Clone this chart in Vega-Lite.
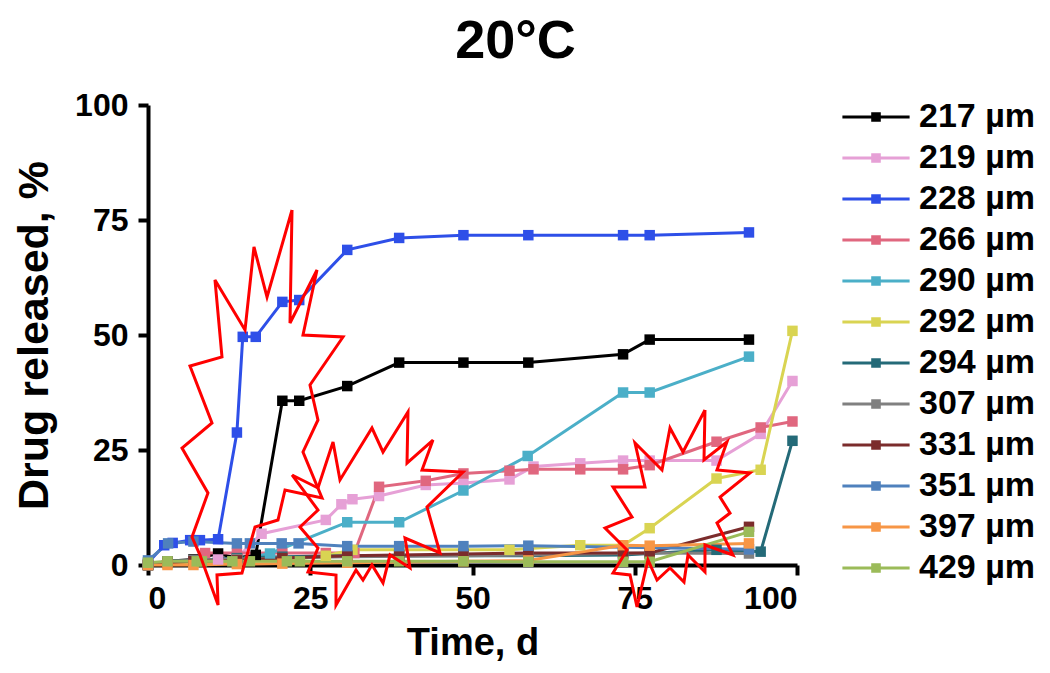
{
  "$schema": "https://vega.github.io/schema/vega-lite/v6.json",
  "width": 649,
  "height": 460,
  "autosize": {"type": "none"},
  "padding": {"left": 148, "top": 105, "right": 253, "bottom": 108},
  "background": "white",
  "title": {"text": "20°C", "fontSize": 54, "fontWeight": "bold", "anchor": "middle", "dx": 43, "offset": 20, "color": "black"},
  "config": {
    "font": "Liberation Sans",
    "view": {"stroke": null},
    "axis": {"grid": false, "domainColor": "black", "tickColor": "black", "domainWidth": 4, "tickWidth": 4, "tickSize": 10, "labelFontSize": 32, "labelFontWeight": "bold", "labelColor": "black", "titleColor": "black", "titleFontWeight": "bold", "labelPadding": 8},
    "legend": {"labelFontSize": 34, "labelFontWeight": "bold", "labelColor": "black"}
  },
  "datasets": {
    "drug": [
      {"series": "217 µm", "t": 0, "pct": 0}, {"series": "217 µm", "t": 3, "pct": 0.8}, {"series": "217 µm", "t": 7, "pct": 1.2}, {"series": "217 µm", "t": 10.8, "pct": 2.5}, {"series": "217 µm", "t": 13.7, "pct": 1.5}, {"series": "217 µm", "t": 16.6, "pct": 2.2}, {"series": "217 µm", "t": 20.7, "pct": 35.7}, {"series": "217 µm", "t": 23.3, "pct": 35.7}, {"series": "217 µm", "t": 30.7, "pct": 38.9}, {"series": "217 µm", "t": 38.7, "pct": 44}, {"series": "217 µm", "t": 48.6, "pct": 44}, {"series": "217 µm", "t": 58.6, "pct": 44}, {"series": "217 µm", "t": 73.2, "pct": 45.8}, {"series": "217 µm", "t": 77.3, "pct": 49}, {"series": "217 µm", "t": 92.6, "pct": 49},
      {"series": "219 µm", "t": 0, "pct": 0}, {"series": "219 µm", "t": 3, "pct": 0.5}, {"series": "219 µm", "t": 7, "pct": 0.8}, {"series": "219 µm", "t": 10.8, "pct": 1.2}, {"series": "219 µm", "t": 13.7, "pct": 1.5}, {"series": "219 µm", "t": 17.5, "pct": 6.8}, {"series": "219 µm", "t": 27.4, "pct": 9.8}, {"series": "219 µm", "t": 29.8, "pct": 13.2}, {"series": "219 µm", "t": 31.5, "pct": 14.3}, {"series": "219 µm", "t": 35.6, "pct": 15}, {"series": "219 µm", "t": 42.8, "pct": 17.4}, {"series": "219 µm", "t": 48.6, "pct": 17.8}, {"series": "219 µm", "t": 55.7, "pct": 18.6}, {"series": "219 µm", "t": 59.4, "pct": 21.4}, {"series": "219 µm", "t": 66.6, "pct": 22.1}, {"series": "219 µm", "t": 73.2, "pct": 22.7}, {"series": "219 µm", "t": 77.3, "pct": 22.7}, {"series": "219 µm", "t": 87.6, "pct": 22.7}, {"series": "219 µm", "t": 94.4, "pct": 28.5}, {"series": "219 µm", "t": 99.3, "pct": 40},
      {"series": "228 µm", "t": 0, "pct": 0.5}, {"series": "228 µm", "t": 2.5, "pct": 4.3}, {"series": "228 µm", "t": 3.8, "pct": 4.8}, {"series": "228 µm", "t": 6.5, "pct": 5.4}, {"series": "228 µm", "t": 8, "pct": 5.4}, {"series": "228 µm", "t": 10.8, "pct": 5.6}, {"series": "228 µm", "t": 13.7, "pct": 28.8}, {"series": "228 µm", "t": 14.6, "pct": 49.6}, {"series": "228 µm", "t": 16.6, "pct": 49.6}, {"series": "228 µm", "t": 20.7, "pct": 57.2}, {"series": "228 µm", "t": 23.3, "pct": 57.6}, {"series": "228 µm", "t": 30.7, "pct": 68.5}, {"series": "228 µm", "t": 38.7, "pct": 71.1}, {"series": "228 µm", "t": 48.6, "pct": 71.7}, {"series": "228 µm", "t": 58.6, "pct": 71.7}, {"series": "228 µm", "t": 73.2, "pct": 71.7}, {"series": "228 µm", "t": 77.3, "pct": 71.7}, {"series": "228 µm", "t": 92.6, "pct": 72.3},
      {"series": "266 µm", "t": 0, "pct": 0}, {"series": "266 µm", "t": 3, "pct": 0.5}, {"series": "266 µm", "t": 7, "pct": 1}, {"series": "266 µm", "t": 8.8, "pct": 2.6}, {"series": "266 µm", "t": 13.7, "pct": 2.6}, {"series": "266 µm", "t": 20.7, "pct": 2.6}, {"series": "266 µm", "t": 27.4, "pct": 2.6}, {"series": "266 µm", "t": 31.8, "pct": 2.6}, {"series": "266 µm", "t": 35.6, "pct": 17}, {"series": "266 µm", "t": 42.8, "pct": 18.3}, {"series": "266 µm", "t": 48.6, "pct": 19.9}, {"series": "266 µm", "t": 55.7, "pct": 20.5}, {"series": "266 µm", "t": 59.4, "pct": 20.8}, {"series": "266 µm", "t": 66.6, "pct": 20.8}, {"series": "266 µm", "t": 73.2, "pct": 20.8}, {"series": "266 µm", "t": 77.3, "pct": 21.7}, {"series": "266 µm", "t": 87.6, "pct": 26.8}, {"series": "266 µm", "t": 94.4, "pct": 29.9}, {"series": "266 µm", "t": 99.3, "pct": 31.2},
      {"series": "290 µm", "t": 0, "pct": 0}, {"series": "290 µm", "t": 3, "pct": 0.5}, {"series": "290 µm", "t": 7, "pct": 0.8}, {"series": "290 µm", "t": 13.7, "pct": 1}, {"series": "290 µm", "t": 18.8, "pct": 2.5}, {"series": "290 µm", "t": 30.7, "pct": 9.3}, {"series": "290 µm", "t": 38.7, "pct": 9.3}, {"series": "290 µm", "t": 48.6, "pct": 16.2}, {"series": "290 µm", "t": 58.5, "pct": 23.7}, {"series": "290 µm", "t": 73.2, "pct": 37.5}, {"series": "290 µm", "t": 77.3, "pct": 37.5}, {"series": "290 µm", "t": 92.6, "pct": 45.3},
      {"series": "292 µm", "t": 0, "pct": 0}, {"series": "292 µm", "t": 3, "pct": 0.3}, {"series": "292 µm", "t": 7, "pct": 0.5}, {"series": "292 µm", "t": 13.7, "pct": 0.8}, {"series": "292 µm", "t": 20.7, "pct": 1}, {"series": "292 µm", "t": 27.4, "pct": 2}, {"series": "292 µm", "t": 31.5, "pct": 3.3}, {"series": "292 µm", "t": 38.7, "pct": 3.3}, {"series": "292 µm", "t": 48.6, "pct": 3.3}, {"series": "292 µm", "t": 55.7, "pct": 3.3}, {"series": "292 µm", "t": 66.6, "pct": 4.3}, {"series": "292 µm", "t": 73.2, "pct": 4.3}, {"series": "292 µm", "t": 77.3, "pct": 8}, {"series": "292 µm", "t": 87.6, "pct": 18.8}, {"series": "292 µm", "t": 94.4, "pct": 20.7}, {"series": "292 µm", "t": 99.3, "pct": 50.9},
      {"series": "294 µm", "t": 0, "pct": 0}, {"series": "294 µm", "t": 3, "pct": 0.8}, {"series": "294 µm", "t": 7, "pct": 1}, {"series": "294 µm", "t": 13.7, "pct": 1.5}, {"series": "294 µm", "t": 20.7, "pct": 1.8}, {"series": "294 µm", "t": 30.7, "pct": 2}, {"series": "294 µm", "t": 38.7, "pct": 2}, {"series": "294 µm", "t": 48.6, "pct": 2}, {"series": "294 µm", "t": 58.6, "pct": 2}, {"series": "294 µm", "t": 73.2, "pct": 2.2}, {"series": "294 µm", "t": 77.3, "pct": 2.5}, {"series": "294 µm", "t": 87.6, "pct": 3.3}, {"series": "294 µm", "t": 94.4, "pct": 2.9}, {"series": "294 µm", "t": 99.3, "pct": 27},
      {"series": "307 µm", "t": 0, "pct": 0}, {"series": "307 µm", "t": 3, "pct": 0.8}, {"series": "307 µm", "t": 7, "pct": 1}, {"series": "307 µm", "t": 13.7, "pct": 1.3}, {"series": "307 µm", "t": 20.7, "pct": 1.5}, {"series": "307 µm", "t": 30.7, "pct": 1.8}, {"series": "307 µm", "t": 48.6, "pct": 2}, {"series": "307 µm", "t": 58.6, "pct": 2.2}, {"series": "307 µm", "t": 73.2, "pct": 2.5}, {"series": "307 µm", "t": 77.3, "pct": 2.6}, {"series": "307 µm", "t": 92.6, "pct": 2.5},
      {"series": "331 µm", "t": 0, "pct": 0}, {"series": "331 µm", "t": 3, "pct": 0.5}, {"series": "331 µm", "t": 7, "pct": 0.8}, {"series": "331 µm", "t": 13.7, "pct": 1}, {"series": "331 µm", "t": 20.7, "pct": 1.5}, {"series": "331 µm", "t": 30.7, "pct": 2}, {"series": "331 µm", "t": 38.7, "pct": 2.2}, {"series": "331 µm", "t": 48.6, "pct": 2.4}, {"series": "331 µm", "t": 58.6, "pct": 2.6}, {"series": "331 µm", "t": 73.2, "pct": 2.6}, {"series": "331 µm", "t": 77.3, "pct": 2.6}, {"series": "331 µm", "t": 92.6, "pct": 8.3},
      {"series": "351 µm", "t": 0, "pct": 1}, {"series": "351 µm", "t": 3.1, "pct": 4.7}, {"series": "351 µm", "t": 7, "pct": 5.1}, {"series": "351 µm", "t": 13.7, "pct": 4.7}, {"series": "351 µm", "t": 15.7, "pct": 4.7}, {"series": "351 µm", "t": 20.6, "pct": 4.7}, {"series": "351 µm", "t": 23.2, "pct": 4.7}, {"series": "351 µm", "t": 30.7, "pct": 4.1}, {"series": "351 µm", "t": 38.7, "pct": 4.1}, {"series": "351 µm", "t": 48.6, "pct": 4.1}, {"series": "351 µm", "t": 58.6, "pct": 4.2}, {"series": "351 µm", "t": 92.6, "pct": 3.4},
      {"series": "397 µm", "t": 0, "pct": 0}, {"series": "397 µm", "t": 3, "pct": 0}, {"series": "397 µm", "t": 7, "pct": 0}, {"series": "397 µm", "t": 13.7, "pct": 0.2}, {"series": "397 µm", "t": 20.7, "pct": 0.3}, {"series": "397 µm", "t": 30.7, "pct": 0.5}, {"series": "397 µm", "t": 48.6, "pct": 0.8}, {"series": "397 µm", "t": 58.6, "pct": 1}, {"series": "397 µm", "t": 73.2, "pct": 4.3}, {"series": "397 µm", "t": 77.3, "pct": 4.2}, {"series": "397 µm", "t": 92.6, "pct": 4.7},
      {"series": "429 µm", "t": 0, "pct": 0.5}, {"series": "429 µm", "t": 3, "pct": 0.8}, {"series": "429 µm", "t": 7.5, "pct": 0.8}, {"series": "429 µm", "t": 8.3, "pct": 0.8}, {"series": "429 µm", "t": 13, "pct": 0.8}, {"series": "429 µm", "t": 15.7, "pct": 0.8}, {"series": "429 µm", "t": 21.4, "pct": 0.8}, {"series": "429 µm", "t": 23.4, "pct": 0.8}, {"series": "429 µm", "t": 30.7, "pct": 0.8}, {"series": "429 µm", "t": 38.7, "pct": 0.8}, {"series": "429 µm", "t": 48.6, "pct": 0.8}, {"series": "429 µm", "t": 58.6, "pct": 0.7}, {"series": "429 µm", "t": 73.2, "pct": 0.7}, {"series": "429 µm", "t": 77.3, "pct": 0.7}, {"series": "429 µm", "t": 92.6, "pct": 7.2}
    ],
    "stars": [
      {"star": "A", "ord": 0, "t": 22.19, "pct": 77.17}, {"star": "A", "ord": 1, "t": 21.88, "pct": 52.61}, {"star": "A", "ord": 2, "t": 26.04, "pct": 64.13}, {"star": "A", "ord": 3, "t": 23.88, "pct": 50.0}, {"star": "A", "ord": 4, "t": 30.05, "pct": 49.57}, {"star": "A", "ord": 5, "t": 24.96, "pct": 39.13}, {"star": "A", "ord": 6, "t": 26.19, "pct": 31.52}, {"star": "A", "ord": 7, "t": 23.88, "pct": 24.57}, {"star": "A", "ord": 8, "t": 26.81, "pct": 14.57}, {"star": "A", "ord": 9, "t": 21.11, "pct": 16.3}, {"star": "A", "ord": 10, "t": 20.03, "pct": 9.78}, {"star": "A", "ord": 11, "t": 16.49, "pct": 8.26}, {"star": "A", "ord": 12, "t": 14.48, "pct": -1.74}, {"star": "A", "ord": 13, "t": 10.63, "pct": -2.17}, {"star": "A", "ord": 14, "t": 10.8, "pct": -8.7}, {"star": "A", "ord": 15, "t": 8.01, "pct": 2.17}, {"star": "A", "ord": 16, "t": 6.78, "pct": 6.09}, {"star": "A", "ord": 17, "t": 9.24, "pct": 15.65}, {"star": "A", "ord": 18, "t": 5.24, "pct": 25.43}, {"star": "A", "ord": 19, "t": 9.86, "pct": 30.87}, {"star": "A", "ord": 20, "t": 6.47, "pct": 43.26}, {"star": "A", "ord": 21, "t": 11.4, "pct": 45.22}, {"star": "A", "ord": 22, "t": 10.32, "pct": 61.96}, {"star": "A", "ord": 23, "t": 14.95, "pct": 51.09}, {"star": "A", "ord": 24, "t": 16.33, "pct": 69.13}, {"star": "A", "ord": 25, "t": 18.34, "pct": 58.26}, {"star": "A", "ord": 26, "t": 22.19, "pct": 77.17},
      {"star": "B", "ord": 0, "t": 22.19, "pct": 19.57}, {"star": "B", "ord": 1, "t": 26.19, "pct": 16.74}, {"star": "B", "ord": 2, "t": 28.51, "pct": 26.74}, {"star": "B", "ord": 3, "t": 29.58, "pct": 18.48}, {"star": "B", "ord": 4, "t": 34.51, "pct": 29.78}, {"star": "B", "ord": 5, "t": 36.21, "pct": 24.57}, {"star": "B", "ord": 6, "t": 40.06, "pct": 33.26}, {"star": "B", "ord": 7, "t": 39.91, "pct": 22.17}, {"star": "B", "ord": 8, "t": 43.91, "pct": 27.17}, {"star": "B", "ord": 9, "t": 42.22, "pct": 20.65}, {"star": "B", "ord": 10, "t": 48.54, "pct": 20.22}, {"star": "B", "ord": 11, "t": 42.99, "pct": 12.61}, {"star": "B", "ord": 12, "t": 44.99, "pct": 2.61}, {"star": "B", "ord": 13, "t": 39.6, "pct": 5.87}, {"star": "B", "ord": 14, "t": 40.37, "pct": -0.65}, {"star": "B", "ord": 15, "t": 37.29, "pct": 2.17}, {"star": "B", "ord": 16, "t": 36.21, "pct": -3.91}, {"star": "B", "ord": 17, "t": 34.51, "pct": 0}, {"star": "B", "ord": 18, "t": 33.13, "pct": -3.26}, {"star": "B", "ord": 19, "t": 32.05, "pct": -1.09}, {"star": "B", "ord": 20, "t": 28.97, "pct": -8.7}, {"star": "B", "ord": 21, "t": 28.97, "pct": -2.17}, {"star": "B", "ord": 22, "t": 24.65, "pct": -1.52}, {"star": "B", "ord": 23, "t": 26.19, "pct": 3.7}, {"star": "B", "ord": 24, "t": 23.42, "pct": 8.26}, {"star": "B", "ord": 25, "t": 26.19, "pct": 11.96}, {"star": "B", "ord": 26, "t": 22.19, "pct": 19.57},
      {"star": "C", "ord": 0, "t": 85.82, "pct": 33.7}, {"star": "C", "ord": 1, "t": 85.67, "pct": 22.83}, {"star": "C", "ord": 2, "t": 89.21, "pct": 26.74}, {"star": "C", "ord": 3, "t": 87.67, "pct": 20.65}, {"star": "C", "ord": 4, "t": 92.76, "pct": 20.0}, {"star": "C", "ord": 5, "t": 88.14, "pct": 14.78}, {"star": "C", "ord": 6, "t": 89.68, "pct": 11.3}, {"star": "C", "ord": 7, "t": 87.67, "pct": 9.13}, {"star": "C", "ord": 8, "t": 90.14, "pct": 2.17}, {"star": "C", "ord": 9, "t": 85.82, "pct": 4.35}, {"star": "C", "ord": 10, "t": 85.82, "pct": -1.52}, {"star": "C", "ord": 11, "t": 83.2, "pct": 2.17}, {"star": "C", "ord": 12, "t": 82.59, "pct": -3.7}, {"star": "C", "ord": 13, "t": 80.43, "pct": -0.65}, {"star": "C", "ord": 14, "t": 78.43, "pct": -3.26}, {"star": "C", "ord": 15, "t": 77.04, "pct": 1.09}, {"star": "C", "ord": 16, "t": 75.35, "pct": -9.13}, {"star": "C", "ord": 17, "t": 74.27, "pct": -2.17}, {"star": "C", "ord": 18, "t": 71.65, "pct": -1.74}, {"star": "C", "ord": 19, "t": 73.81, "pct": 3.26}, {"star": "C", "ord": 20, "t": 70.42, "pct": 8.04}, {"star": "C", "ord": 21, "t": 74.58, "pct": 10.43}, {"star": "C", "ord": 22, "t": 71.65, "pct": 16.96}, {"star": "C", "ord": 23, "t": 76.58, "pct": 16.96}, {"star": "C", "ord": 24, "t": 75.04, "pct": 26.52}, {"star": "C", "ord": 25, "t": 79.2, "pct": 20.65}, {"star": "C", "ord": 26, "t": 80.43, "pct": 29.78}, {"star": "C", "ord": 27, "t": 82.43, "pct": 24.57}, {"star": "C", "ord": 28, "t": 85.82, "pct": 33.7}
    ]
  },
  "layer": [
    {
      "data": {"name": "drug"},
      "mark": {"type": "line", "strokeWidth": 3},
      "encoding": {
        "x": {"field": "t", "type": "quantitative", "scale": {"domain": [0, 100], "nice": false}, "axis": {"values": [0, 25, 50, 75, 100], "title": "Time, d", "titleFontSize": 38, "titlePadding": 10}},
        "y": {"field": "pct", "type": "quantitative", "scale": {"domain": [0, 100], "nice": false}, "axis": {"values": [0, 25, 50, 75, 100], "title": "Drug released, %", "titleFontSize": 43, "titlePadding": 18, "labelPadding": 10}},
        "color": {
          "field": "series", "type": "nominal",
          "scale": {
            "domain": ["217 µm", "219 µm", "228 µm", "266 µm", "290 µm", "292 µm", "294 µm", "307 µm", "331 µm", "351 µm", "397 µm", "429 µm"],
            "range": ["#000000", "#E6A0D6", "#2E4FE8", "#E0677F", "#4BAFC8", "#D9D452", "#246A78", "#808080", "#7B2C2C", "#4F81BD", "#F79646", "#9BBB59"]
          },
          "legend": {
            "title": null, "orient": "none", "legendX": 711, "legendY": -5, "padding": 0,
            "symbolType": "M-5.6,0H5.6M-0.55,-0.55H0.55V0.55H-0.55Z", "symbolSize": 144, "symbolStrokeWidth": 3,
            "labelOffset": 26, "rowPadding": 7, "labelFontSize": 34, "labelFontWeight": "bold",
            "encode": {"symbols": {"update": {"fill": {"scale": "color", "field": "value"}, "stroke": {"scale": "color", "field": "value"}, "opacity": {"value": 1}}}}
          }
        }
      }
    },
    {
      "data": {"name": "drug"},
      "mark": {"type": "point", "shape": "square", "filled": true, "size": 110, "opacity": 1},
      "encoding": {
        "x": {"field": "t", "type": "quantitative"},
        "y": {"field": "pct", "type": "quantitative"},
        "color": {"field": "series", "type": "nominal"}
      }
    },
    {
      "data": {"name": "stars"},
      "mark": {"type": "line", "color": "#FF0000", "strokeWidth": 3, "clip": false},
      "encoding": {
        "x": {"field": "t", "type": "quantitative"},
        "y": {"field": "pct", "type": "quantitative"},
        "detail": {"field": "star", "type": "nominal"},
        "order": {"field": "ord", "type": "quantitative"}
      }
    }
  ]
}
